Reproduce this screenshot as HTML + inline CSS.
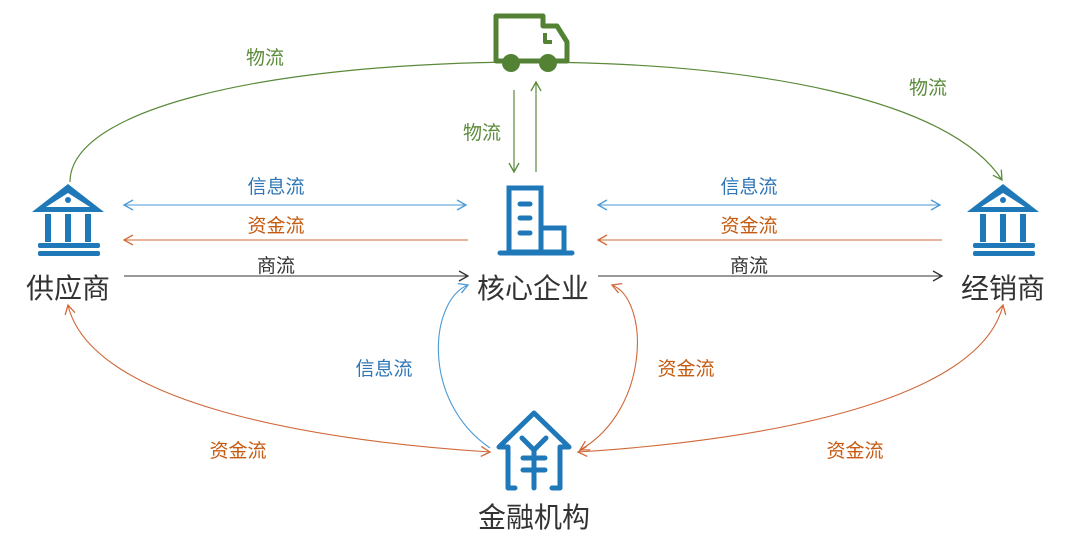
<!DOCTYPE html>
<html><head><meta charset="utf-8"><style>
html,body{margin:0;padding:0;background:#fff}
svg{display:block}
text{font-family:"Liberation Sans","Noto Sans CJK SC",sans-serif}
</style></head><body>
<svg width="1080" height="547" viewBox="0 0 1080 547" xmlns="http://www.w3.org/2000/svg">
<defs>
<marker id="ag" markerWidth="12" markerHeight="12" refX="10" refY="6" orient="auto" markerUnits="userSpaceOnUse"><path d="M1,1 L10,6 L1,11" fill="none" stroke="#5a8a3a" stroke-width="1.3"/></marker>
<marker id="ab" markerWidth="12" markerHeight="12" refX="10" refY="6" orient="auto-start-reverse" markerUnits="userSpaceOnUse"><path d="M1,1 L10,6 L1,11" fill="none" stroke="#4a9ad6" stroke-width="1.3"/></marker>
<marker id="ao" markerWidth="12" markerHeight="12" refX="10" refY="6" orient="auto-start-reverse" markerUnits="userSpaceOnUse"><path d="M1,1 L10,6 L1,11" fill="none" stroke="#d0693a" stroke-width="1.3"/></marker>
<marker id="ak" markerWidth="12" markerHeight="12" refX="10" refY="6" orient="auto" markerUnits="userSpaceOnUse"><path d="M1,1 L10,6 L1,11" fill="none" stroke="#333" stroke-width="1.3"/></marker>
</defs>
<path d="M70,182 C70,110 260,64 520,62 C760,62 950,100 1002,180" fill="none" stroke="#5a8a3a" stroke-width="1.2" marker-end="url(#ag)"/>
<line x1="514" y1="90" x2="514" y2="172" stroke="#5a8a3a" stroke-width="1.2" marker-end="url(#ag)"/>
<line x1="536" y1="172" x2="536" y2="82" stroke="#5a8a3a" stroke-width="1.2" marker-end="url(#ag)"/>
<g fill="none" stroke="#548235" stroke-width="5" stroke-linejoin="round">
<path d="M496,16 H543 V26 H557 L567,42 V61 H496 Z" fill="#fff"/>
<path d="M545,33 V42 H552" stroke-width="4"/>
</g>
<circle cx="511" cy="63" r="9" fill="#548235"/><circle cx="548" cy="63" r="9" fill="#548235"/>
<line x1="124" y1="205" x2="466" y2="205" stroke="#4a9ad6" stroke-width="1.1" marker-start="url(#ab)" marker-end="url(#ab)"/>
<line x1="468" y1="240" x2="124" y2="240" stroke="#d0693a" stroke-width="1.1" marker-end="url(#ao)"/>
<line x1="124" y1="276" x2="468" y2="276" stroke="#333" stroke-width="1.1" marker-end="url(#ak)"/>
<line x1="598" y1="205" x2="940" y2="205" stroke="#4a9ad6" stroke-width="1.1" marker-start="url(#ab)" marker-end="url(#ab)"/>
<line x1="942" y1="240" x2="598" y2="240" stroke="#d0693a" stroke-width="1.1" marker-end="url(#ao)"/>
<line x1="598" y1="276" x2="942" y2="276" stroke="#333" stroke-width="1.1" marker-end="url(#ak)"/>
<path d="M68,305 C90,400 300,440 490,452" fill="none" stroke="#d0693a" stroke-width="1.1" marker-start="url(#ao)" marker-end="url(#ao)"/>
<path d="M1003,305 C980,400 770,440 578,452" fill="none" stroke="#d0693a" stroke-width="1.1" marker-start="url(#ao)" marker-end="url(#ao)"/>
<path d="M468,285 C430,300 420,400 490,448" fill="none" stroke="#4a9ad6" stroke-width="1.1" marker-start="url(#ab)"/>
<path d="M612,285 C650,300 650,410 580,450" fill="none" stroke="#d0693a" stroke-width="1.1" marker-start="url(#ao)" marker-end="url(#ao)"/>
<g id="bank" fill="#1f78b8">
<path d="M68,184 L104,212 L32,212 Z M68,193 L46,207 H90 Z" fill-rule="evenodd"/>
<circle cx="68" cy="200" r="3"/>
<rect x="45" y="214" width="6" height="28"/><rect x="65" y="214" width="6" height="28"/><rect x="85" y="214" width="6" height="28"/>
<rect x="38" y="243" width="62" height="5" rx="2"/><rect x="38" y="251" width="62" height="5" rx="2"/>
</g>
<use href="#bank" x="935" y="0"/>
<g fill="none" stroke="#1f78b8" stroke-width="5">
<rect x="509" y="188" width="32" height="64"/>
<rect x="541" y="228" width="23" height="24"/>
<line x1="520" y1="204" x2="530" y2="204" stroke-linecap="round"/>
<line x1="520" y1="218" x2="530" y2="218" stroke-linecap="round"/>
<line x1="520" y1="233" x2="530" y2="233" stroke-linecap="round"/>
<line x1="500" y1="253" x2="572" y2="253" stroke-linecap="round"/>
</g>
<g fill="none" stroke="#1f78b8" stroke-width="5" stroke-linecap="round" stroke-linejoin="round">
<path d="M515,488 H508 V447 H499 L534,413 L569,447 H560 V488 H552"/>
<path d="M522,438 L534,450 L546,438 M534,450 V488 M523,458 H545 M523,470 H545"/>
</g>
<g font-size="19">
<text x="265" y="64" fill="#5a8a3a" text-anchor="middle">物流</text>
<text x="482" y="139" fill="#5a8a3a" text-anchor="middle">物流</text>
<text x="928" y="94" fill="#5a8a3a" text-anchor="middle">物流</text>
<text x="276" y="193" fill="#2e75b6" text-anchor="middle">信息流</text>
<text x="276" y="232" fill="#c55a11" text-anchor="middle">资金流</text>
<text x="276" y="272" fill="#333" text-anchor="middle">商流</text>
<text x="749" y="193" fill="#2e75b6" text-anchor="middle">信息流</text>
<text x="749" y="232" fill="#c55a11" text-anchor="middle">资金流</text>
<text x="749" y="272" fill="#333" text-anchor="middle">商流</text>
<text x="384" y="375" fill="#2e75b6" text-anchor="middle">信息流</text>
<text x="686" y="375" fill="#c55a11" text-anchor="middle">资金流</text>
<text x="238" y="457" fill="#c55a11" text-anchor="middle">资金流</text>
<text x="855" y="457" fill="#c55a11" text-anchor="middle">资金流</text>
</g>
<g font-size="28" fill="#333" text-anchor="middle">
<text x="68" y="298">供应商</text>
<text x="533" y="298">核心企业</text>
<text x="1003" y="298">经销商</text>
<text x="534" y="527">金融机构</text>
</g>
</svg>
</body></html>
